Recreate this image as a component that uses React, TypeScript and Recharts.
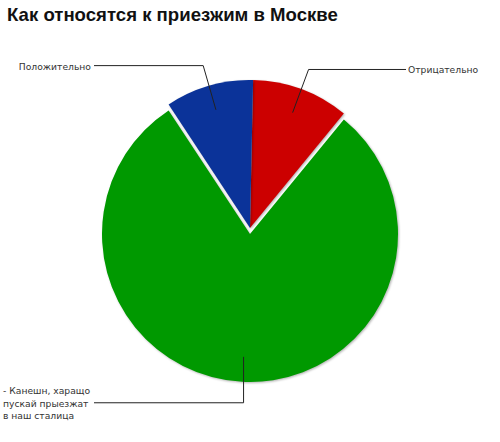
import { Cell, Pie, PieChart } from "recharts";

const title = "Как относятся к приезжим в Москве";
const names = ["Отрицательно", "- Канешн, харащо|пускай прыезжат|в наш сталица", "Положительно"];
const shares = [10.6, 79.8, 9.6];
const colors = ["#cc0000", "#009900", "#0b3399"];
// green sits a little lower than the two small slices
const lowered = [false, true, false];

const data = names.map((name, i) => ({ name, value: shares[i] }));

const RAD = Math.PI / 180;

function makeLabel(showLowered: boolean) {
  return (props: any) => {
    const { cx, cy, midAngle, outerRadius, index, name } = props;
    if (lowered[index] !== showLowered) return null;
    const cos = Math.cos(-midAngle * RAD);
    const sin = Math.sin(-midAngle * RAD);
    const r1 = outerRadius - 25;
    const r2 = outerRadius + 21;
    const x1 = cx + r1 * cos;
    const y1 = cy + r1 * sin;
    // nearly vertical leaders are drawn straight down
    const x2 = Math.abs(cos) < 0.1 ? x1 : cx + r2 * cos;
    const y2 = cy + r2 * sin;
    const right = cos > 0.05;
    const x3 = right ? cx + 156 : cx - 156;
    const lines = String(name).split("|");
    const lh = 12.5;
    const top = y2 - ((lines.length - 1) * lh) / 2;
    return (
      <g>
        <polyline
          points={`${x1},${y1} ${x2},${y2} ${x3},${y2}`}
          fill="none"
          stroke="#222"
          strokeWidth={1}
        />
        <text
          x={right ? x3 + 2 : x3 - 3}
          y={top}
          textAnchor={right ? "start" : "end"}
          dominantBaseline="central"
          fontFamily="DejaVu Sans"
          fontSize={9.2}
          fill="#333"
        >
          {lines.map((t, i) => (
            <tspan
              key={i}
              x={right ? x3 + 2 : lines.length > 1 ? 3 : x3 - 3}
              dy={i === 0 ? 0 : lh}
              textAnchor={lines.length > 1 || right ? "start" : "end"}
            >
              {t}
            </tspan>
          ))}
        </text>
      </g>
    );
  };
}

const shadow = "drop-shadow(1.5px 1.5px 1px rgba(0,0,0,0.3))";

export default function App() {
  return (
    <div
      style={{
        position: "absolute",
        left: 0,
        top: 0,
        width: 500,
        height: 442,
        background: "#fff",
      }}
    >
      <div
        style={{
          position: "absolute",
          left: 7,
          top: 6,
          fontFamily: "Liberation Sans",
          fontWeight: "bold",
          fontSize: 18.6,
          lineHeight: "18px",
          color: "#111",
          whiteSpace: "nowrap",
        }}
      >
        {title}
      </div>
      <PieChart width={500} height={442} margin={{ top: 0, right: 0, bottom: 0, left: 0 }}>
        <Pie
          data={data}
          dataKey="value"
          cx={250}
          cy={234}
          outerRadius={148}
          startAngle={88.8}
          endAngle={-271.2}
          stroke="none"
          label={makeLabel(true)}
          labelLine={false}
          isAnimationActive={false}
        >
          {data.map((d, i) => (
            <Cell
              key={d.name}
              fill={lowered[i] ? colors[i] : "none"}
              style={{ filter: lowered[i] ? shadow : "none" }}
            />
          ))}
        </Pie>
        <Pie
          data={data}
          dataKey="value"
          cx={250}
          cy={228}
          outerRadius={148}
          startAngle={88.8}
          endAngle={-271.2}
          stroke="none"
          label={makeLabel(false)}
          labelLine={false}
          isAnimationActive={false}
        >
          {data.map((d, i) => (
            <Cell
              key={d.name}
              fill={lowered[i] ? "none" : colors[i]}
              style={{ filter: lowered[i] ? "none" : shadow }}
            />
          ))}
        </Pie>
      </PieChart>
    </div>
  );
}
